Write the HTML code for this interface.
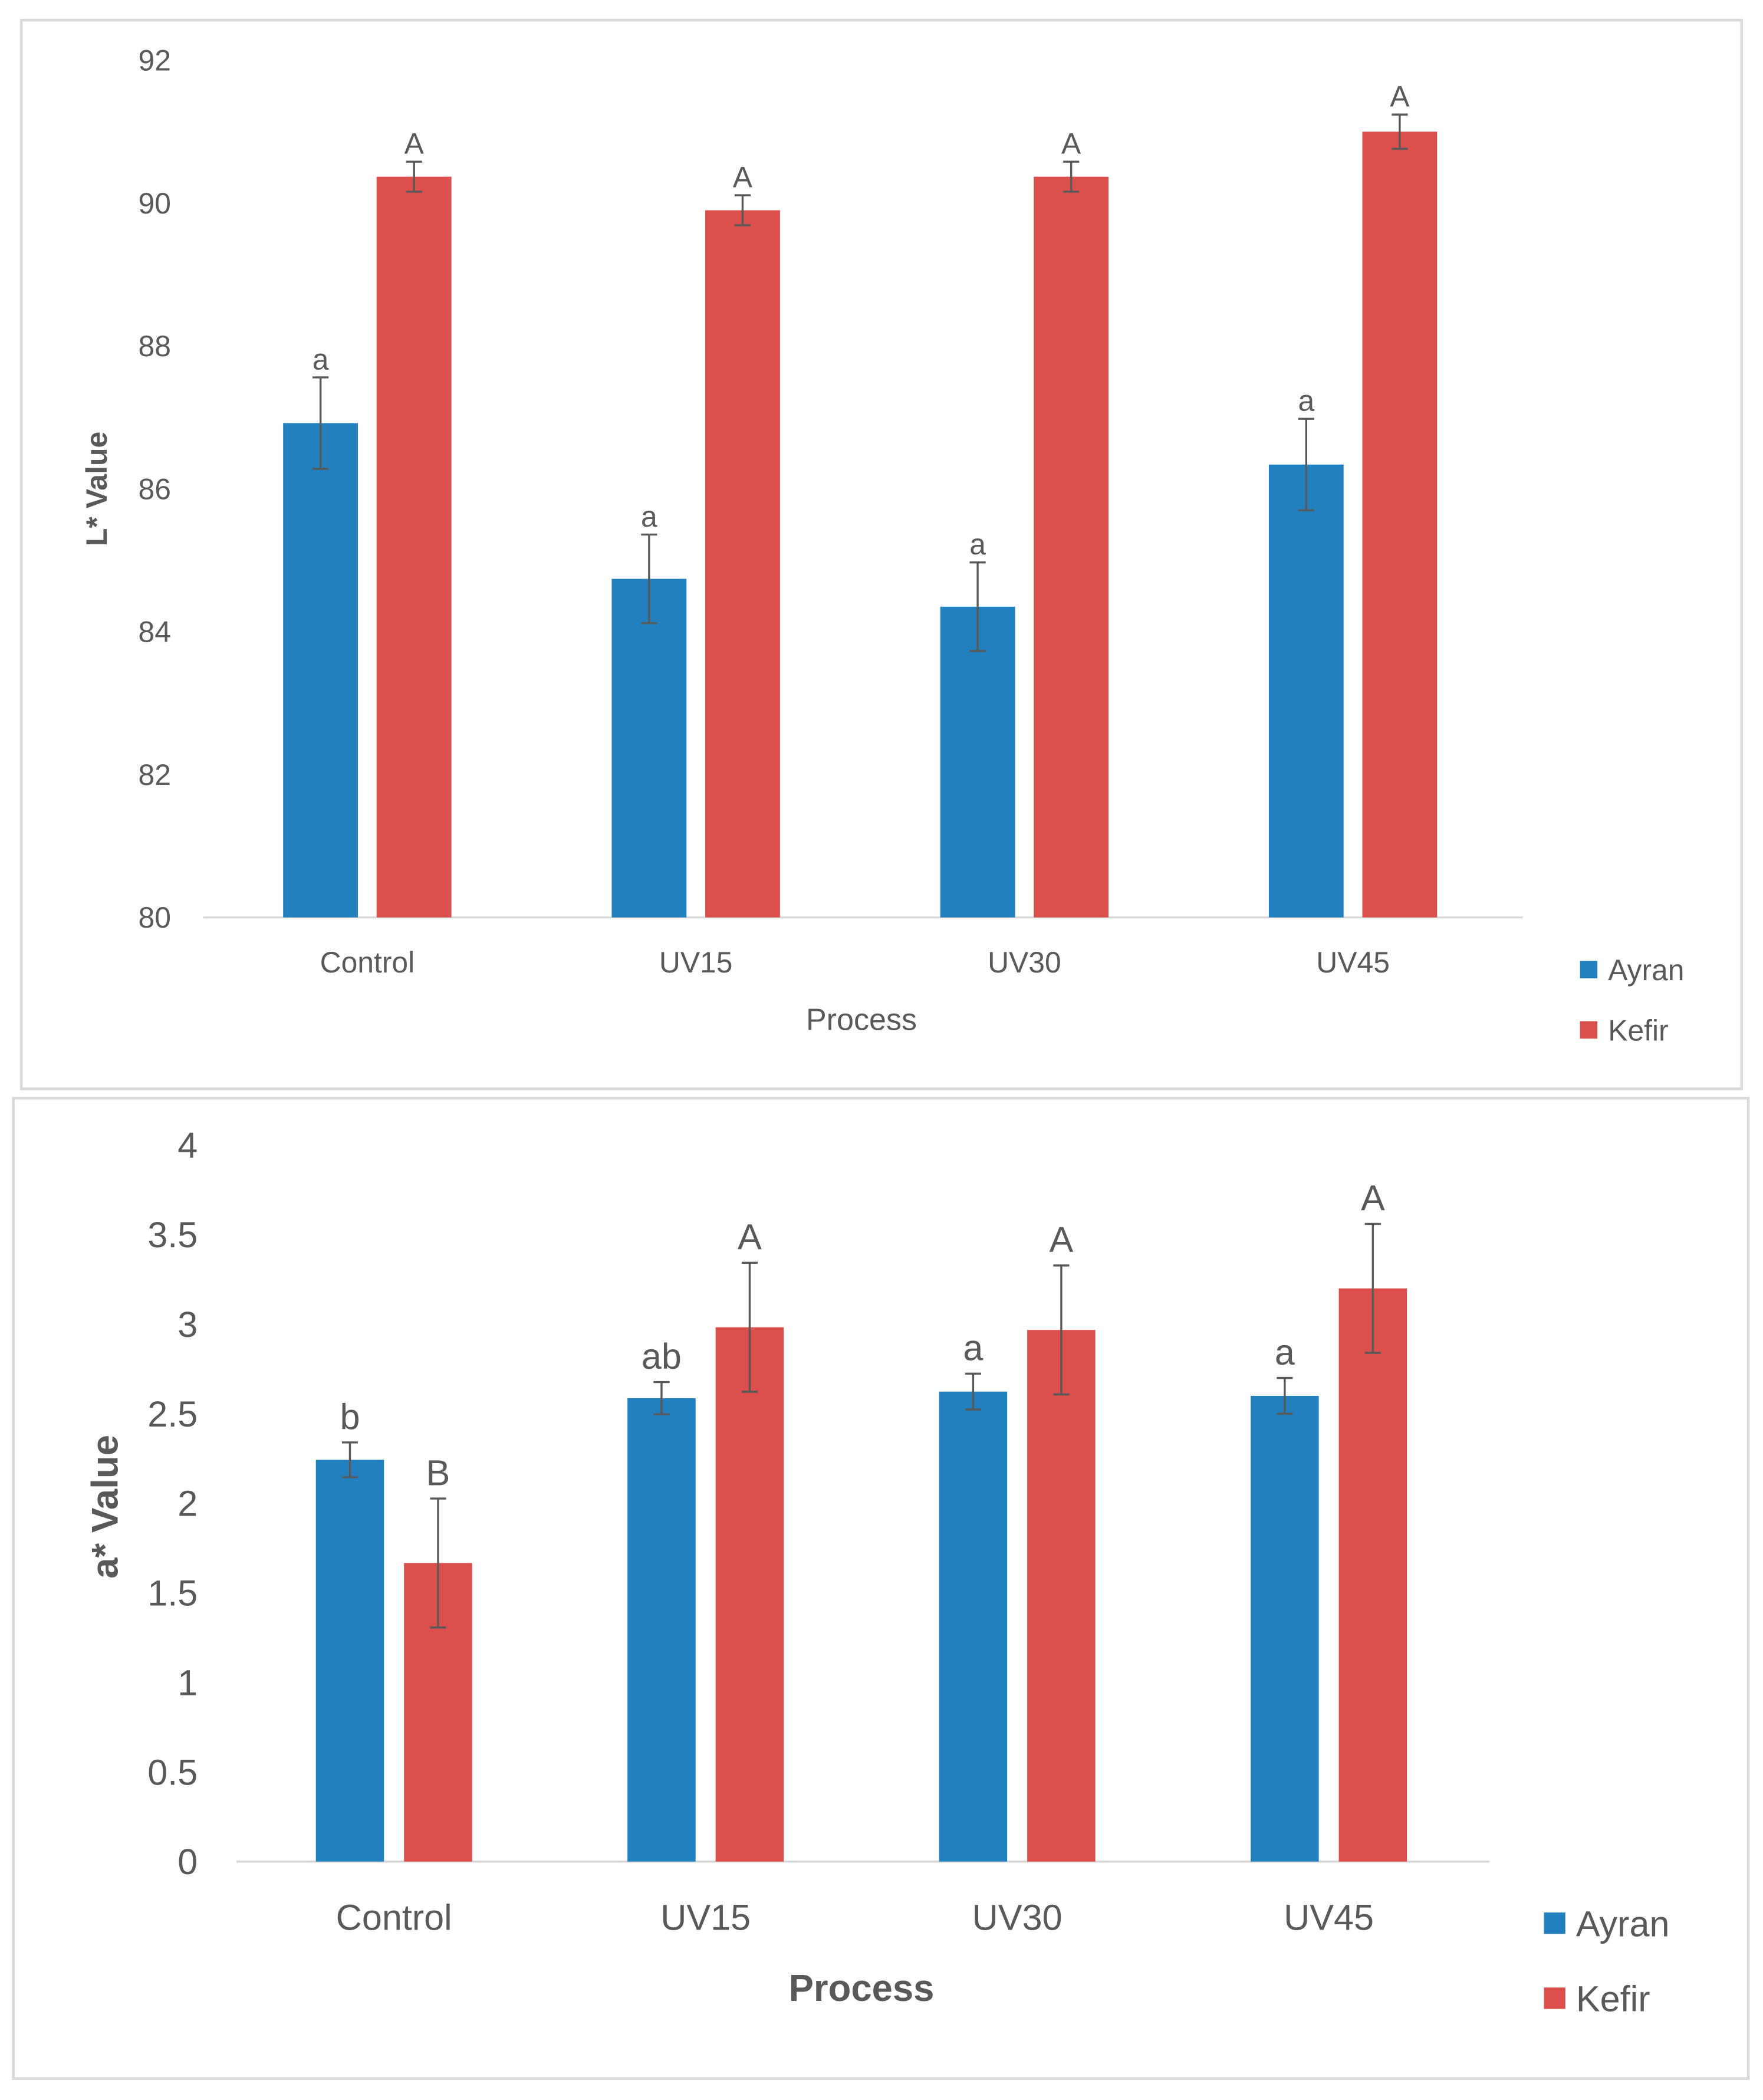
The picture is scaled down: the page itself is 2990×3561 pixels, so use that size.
<!DOCTYPE html>
<html><head><meta charset="utf-8"><style>
html,body{margin:0;padding:0;background:#fff}
svg{display:block}
text{font-family:"Liberation Sans",sans-serif;fill:#595959}
</style></head><body>
<svg id="root" width="2990" height="3561" viewBox="0 0 1320 1568" preserveAspectRatio="none" xmlns="http://www.w3.org/2000/svg">
<rect x="16" y="15" width="1288" height="798" fill="#fff" stroke="#d9d9d9" stroke-width="2"/>
<rect x="10" y="820" width="1299" height="732" fill="#fff" stroke="#d9d9d9" stroke-width="2"/>
<g id="top"></g>
<g id="bottom"></g>
</svg>
<script>
const categories = ["Control","UV15","UV30","UV45"];
const seriesNames = ["Ayran","Kefir"];
const lAyran = [86.92, 84.74, 84.35, 86.34];
const lAyranErr = [0.64, 0.62, 0.62, 0.64];
const lKefir = [90.37, 89.9, 90.37, 91.0];
const lKefirErr = [0.21, 0.21, 0.21, 0.24];
const lAyranLetters = ["a","a","a","a"];
const lKefirLetters = ["A","A","A","A"];
const lTicks = [80,82,84,86,88,90,92];
const aAyran = [2.243, 2.587, 2.624, 2.60];
const aAyranErr = [0.097, 0.09, 0.1, 0.1];
const aKefir = [1.667, 2.983, 2.968, 3.2];
const aKefirErr = [0.36, 0.36, 0.36, 0.36];
const aAyranLetters = ["b","ab","a","a"];
const aKefirLetters = ["B","A","A","A"];
const aTicks = [0,0.5,1,1.5,2,2.5,3,3.5,4];
const aTickLabels = ["0","0.5","1","1.5","2","2.5","3","3.5","4"];

const NS="http://www.w3.org/2000/svg";
function mk(parent,tag,attrs,txt){const e=document.createElementNS(NS,tag);for(const k in attrs)e.setAttribute(k,attrs[k]);if(txt!==undefined)e.textContent=txt;parent.appendChild(e);return e;}

function draw(g,cfg){
  const y=v=>cfg.y0+(v-cfg.vmin)/(cfg.vmax-cfg.vmin)*(cfg.y1-cfg.y0);
  const x=i=>cfg.c0+i*cfg.step;
  cfg.ticks.forEach((t,i)=>{
    const tl=mk(g,'text',{x:cfg.tickX,y:y(t)+cfg.fs*0.35,'text-anchor':'end','font-size':cfg.fs},cfg.tickLabels[i]);
    
    
  });
  const ax=mk(g,'line',{x1:cfg.ax0,x2:cfg.ax1,y1:y(cfg.vmin),y2:y(cfg.vmin),stroke:'#d9d9d9','stroke-width':1.5});
  
  
  const series=[[cfg.s1,cfg.e1,cfg.l1,'#2380bf',-cfg.off],[cfg.s2,cfg.e2,cfg.l2,'#db4f4d',cfg.off]];
  categories.forEach((c,i)=>{
    series.forEach((s,si)=>{
      const cx=x(i)+s[4],top=y(s[0][i]),base=y(cfg.vmin);
      const b=mk(g,'rect',{x:cx-cfg.bw/2,y:top,width:cfg.bw,height:base-top,fill:s[3]});
      
      
      const hi=y(s[0][i]+s[1][i]),lo=y(s[0][i]-s[1][i]);
      const eb=mk(g,'path',{d:`M${cx},${hi}V${lo}M${cx-6},${hi}H${cx+6}M${cx-6},${lo}H${cx+6}`,stroke:'#595959','stroke-width':1.5,fill:'none'});
      
      
      const lt=mk(g,'text',{x:cx,y:hi-cfg.letterGap,'text-anchor':'middle','font-size':cfg.letterFs},s[2][i]);
      
      
    });
    const xl=mk(g,'text',{x:x(i),y:cfg.xlY,'text-anchor':'middle','font-size':cfg.fs},c);
    
    
  });
  const xt=mk(g,'text',{x:645,y:cfg.xtY,'text-anchor':'middle','font-size':cfg.titleFs,'font-weight':cfg.bold?'bold':'normal'},'Process');
  
  
  const yt=mk(g,'text',{x:0,y:0,'text-anchor':'middle','font-size':cfg.ytFs,'font-weight':'bold',transform:`translate(${cfg.ytX},${cfg.ytY}) rotate(-90)`},cfg.ytitle);
  
  
  seriesNames.forEach((n,i)=>{
    const ly=cfg.legY[i];
    const sw=mk(g,'rect',{x:cfg.legX,y:ly-cfg.sq/2,width:cfg.sq,height:cfg.sq,fill:i?'#db4f4d':'#2380bf'});
    
    
    const lt=mk(g,'text',{x:cfg.legX+cfg.sq+8,y:ly+cfg.legFs*0.36,'font-size':cfg.legFs},n);
    
    
  });
}
draw(document.getElementById('top'),{vmin:80,vmax:92,y0:685,y1:45,c0:275,step:246,off:35,bw:56,
  s1:lAyran,e1:lAyranErr,l1:lAyranLetters,s2:lKefir,e2:lKefirErr,l2:lKefirLetters,
  ticks:lTicks,tickLabels:lTicks.map(String),tickX:128,fs:22,letterFs:22,letterGap:6,ax0:152,ax1:1140,
  xlY:726,xtY:769,titleFs:23,bold:false,ytitle:'L* Value',ytX:80,ytY:365,ytFs:22,
  legX:1183,legY:[724,769],sq:13,legFs:22});
draw(document.getElementById('bottom'),{vmin:0,vmax:4,y0:1390,y1:855,c0:295,step:233.3,off:33,bw:51,
  s1:aAyran,e1:aAyranErr,l1:aAyranLetters,s2:aKefir,e2:aKefirErr,l2:aKefirLetters,
  ticks:aTicks,tickLabels:aTickLabels,tickX:148,fs:27,letterFs:27,letterGap:10,ax0:177,ax1:1115,
  xlY:1441,xtY:1494,titleFs:28,bold:true,ytitle:'a* Value',ytX:88,ytY:1125,ytFs:28,
  legX:1156,legY:[1436,1492],sq:16,legFs:27});
</script>
</body></html>
